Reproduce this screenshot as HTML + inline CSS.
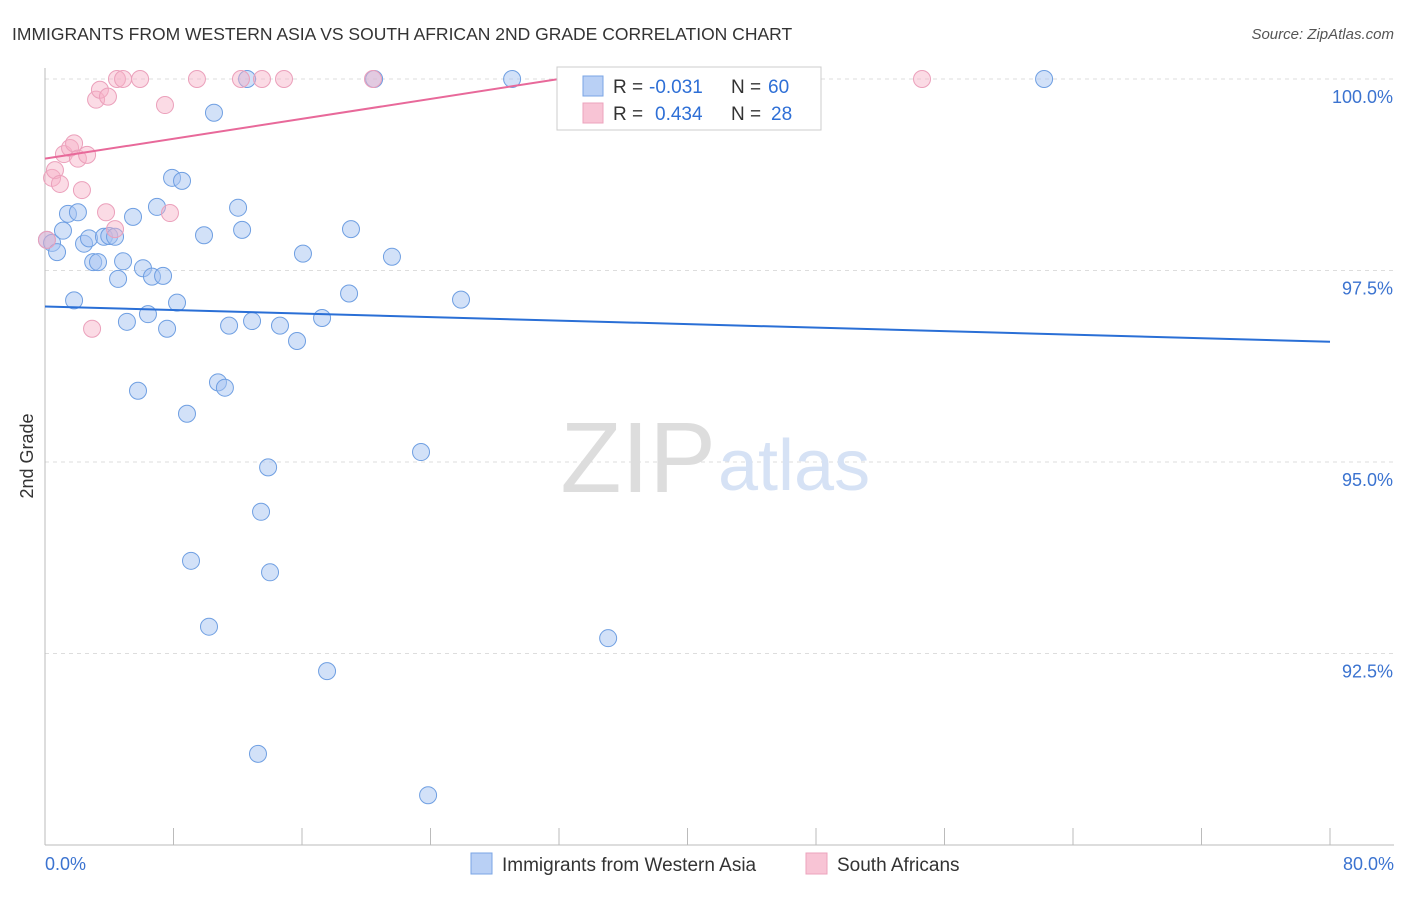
<!DOCTYPE html>
<html><head><meta charset="utf-8"><style>
body{margin:0;background:#fff;font-family:"Liberation Sans",sans-serif}
svg text{font-family:"Liberation Sans",sans-serif}
</style></head><body>
<svg id="chart" width="1406" height="892">
<text x="12" y="40" font-size="17.5" fill="#333">IMMIGRANTS FROM WESTERN ASIA VS SOUTH AFRICAN 2ND GRADE CORRELATION CHART</text>
<text x="1394" y="39" font-size="15" fill="#555" font-style="italic" text-anchor="end">Source: ZipAtlas.com</text>
<text x="33" y="456" font-size="18" fill="#333" text-anchor="middle" transform="rotate(-90 33 456)">2nd Grade</text>
<g id="grid"></g>
<text x="716" y="492" font-size="100" fill="#ddd" text-anchor="end" font-family="Liberation Serif">ZIP</text>
<text x="718" y="490" font-size="72" fill="#d6e2f5">atlas</text>
<g id="marks"></g>
<g>
<rect x="557" y="67" width="264" height="63" fill="#fff" stroke="#ccc"/>
<rect x="583" y="76" width="20" height="20" fill="#b9d0f5" stroke="#7aa5e5"/>
<rect x="583" y="103" width="20" height="20" fill="#f8c4d5" stroke="#eca3bd"/>
<text x="613" y="93" font-size="19" fill="#333">R =</text>
<text x="649" y="93" font-size="19" fill="#2e6fd6">-0.031</text>
<text x="731" y="93" font-size="19" fill="#333">N =</text>
<text x="768" y="93" font-size="19" fill="#2e6fd6">60</text>
<text x="613" y="120" font-size="19" fill="#333">R =</text>
<text x="655" y="120" font-size="19" fill="#2e6fd6">0.434</text>
<text x="731" y="120" font-size="19" fill="#333">N =</text>
<text x="771" y="120" font-size="19" fill="#2e6fd6">28</text>
</g>
<text x="45" y="870" font-size="18" fill="#3b73d0">0.0%</text>
<text x="1394" y="870" font-size="18" fill="#3b73d0" text-anchor="end">80.0%</text>
<g>
<rect x="471" y="853" width="21" height="21" fill="#b9d0f5" stroke="#7aa5e5"/>
<text x="502" y="871" font-size="19" fill="#333">Immigrants from Western Asia</text>
<rect x="806" y="853" width="21" height="21" fill="#f8c4d5" stroke="#eca3bd"/>
<text x="837" y="871" font-size="19" fill="#333">South Africans</text>
</g>
</svg>
<script>
const yTicks=[100,97.5,95,92.5];
const yTickLabels=["100.0%","97.5%","95.0%","92.5%"];
const xTicks=[0,8,16,24,32,40,48,56,64,72,80];
const blueX=[0.12,0.44,0.75,1.12,1.43,2.05,1.81,2.43,2.74,3.0,3.3,3.67,4.0,4.36,4.55,4.86,5.1,5.48,5.79,6.1,6.41,6.66,6.97,7.35,7.6,7.91,8.22,8.53,8.84,9.09,9.9,10.21,10.52,10.77,11.2,11.46,12.02,12.27,12.58,12.89,13.26,13.45,13.89,14.01,14.63,15.69,16.06,17.25,17.56,18.93,19.05,20.49,21.6,23.41,23.85,25.9,29.08,35.06,42.34,62.2];
const blueY=[97.9,97.86,97.74,98.02,98.24,98.26,97.11,97.85,97.92,97.61,97.61,97.94,97.95,97.94,97.39,97.62,96.83,98.2,95.93,97.53,96.93,97.42,98.33,97.43,96.74,98.71,97.08,98.67,95.63,93.71,97.96,92.85,99.56,96.04,95.97,96.78,98.32,98.03,100,96.84,91.19,94.35,94.93,93.56,96.78,96.58,97.72,96.88,92.27,97.2,98.04,100,97.68,95.13,90.65,97.12,100,92.7,100,100];
const pinkX=[0.12,0.44,0.62,0.93,1.18,1.56,1.81,2.05,2.3,2.62,2.93,3.18,3.42,3.92,3.8,4.36,4.48,4.86,5.92,7.47,7.78,9.46,12.2,13.51,14.88,20.42,54.6];
const pinkY=[97.9,98.71,98.81,98.63,99.02,99.1,99.16,98.96,98.55,99.01,96.74,99.73,99.86,99.77,98.26,98.04,100,100,100,99.66,98.25,100,100,100,100,100,100];
const blueTrend=[97.03,96.57];
const pinkTrend=[98.96,100];
const pinkTrendEndX=32;
const X=v=>45+v/80*1285, Y=v=>79+(100-v)*76.6;
const NS="http://www.w3.org/2000/svg";
const g=document.getElementById('grid'), m=document.getElementById('marks');
function el(t,a,p){const e=document.createElementNS(NS,t);for(const k in a)e.setAttribute(k,a[k]);p.appendChild(e);return e;}
yTicks.forEach((t,i)=>{
 const l=el('line',{x1:45,x2:1394,y1:Y(t),y2:Y(t),stroke:'#ddd','stroke-dasharray':'4,4'},g);
 
 
 const tx=el('text',{x:1393,y:Y(t)+24,'font-size':18,fill:'#3b73d0','text-anchor':'end'},g);
 tx.textContent=yTickLabels[i];
 
 
});
const ax=el('line',{x1:45,x2:45,y1:68,y2:845,stroke:'#bbb'},g);


const bx=el('line',{x1:45,x2:1394,y1:845,y2:845,stroke:'#bbb'},g);


xTicks.forEach(t=>{
 const l=el('line',{x1:X(t),x2:X(t),y1:828,y2:845,stroke:'#bbb'},g);
 
 
});
blueX.forEach((x,i)=>{
 const c=el('circle',{cx:X(x),cy:Y(blueY[i]),r:8.5,fill:'rgba(165,195,242,0.5)',stroke:'#6f9fe2','stroke-width':1},m);
 
 
});
pinkX.forEach((x,i)=>{
 const c=el('circle',{cx:X(x),cy:Y(pinkY[i]),r:8.5,fill:'rgba(246,175,198,0.45)',stroke:'#eba0bb','stroke-width':1},m);
 
 
});
const bl=el('line',{x1:X(0),x2:X(80),y1:Y(blueTrend[0]),y2:Y(blueTrend[1]),stroke:'#2a6fd6','stroke-width':2},m);


const pl=el('line',{x1:X(0),x2:X(pinkTrendEndX),y1:Y(pinkTrend[0]),y2:Y(pinkTrend[1]),stroke:'#e8699a','stroke-width':2},m);


</script>
</body></html>
